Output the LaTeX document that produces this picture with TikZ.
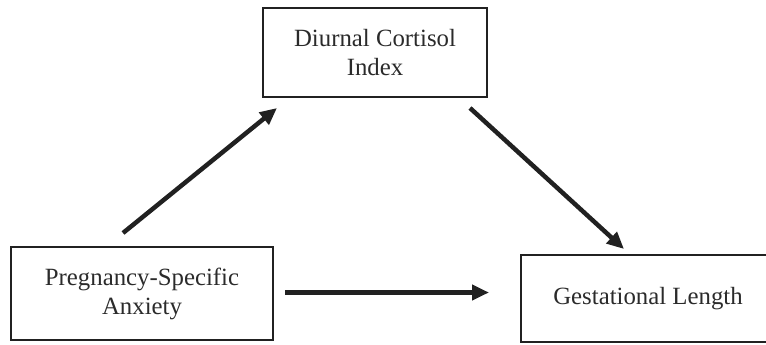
\documentclass[tikz,border=0pt]{standalone}
\usepackage{fontspec}
\setmainfont{Liberation Serif}
\usetikzlibrary{arrows.meta}
\definecolor{ink}{gray}{0.13}
\definecolor{txt}{gray}{0.17}
\begin{document}
\begin{tikzpicture}[x=1pt,y=-1pt,
  varbox/.style={draw=ink,line width=2.6pt,align=center,text=txt,
    font=\fontsize{24.8}{29}\selectfont,inner sep=0pt},
  path/.style={draw=ink,line width=4.5pt,
    -{Triangle[length=17pt,width=15pt]}}]
\useasboundingbox (0,0) rectangle (766,345);
\clip (0,0) rectangle (766,345);
\node[varbox,minimum width=224pt,minimum height=89pt] (cort) at (375,52.5)
  {Diurnal Cortisol\\Index};
\node[varbox,minimum width=262pt,minimum height=93pt] (anx) at (142,293.5)
  {Pregnancy-Specific\\Anxiety};
\node[varbox,minimum width=254pt,minimum height=87pt] (gest) at (648,298.5)
  {Gestational Length};
% arrow end points, set off from the boxes
\coordinate (a1) at (123,233);
\coordinate (a2) at (277,108);
\coordinate (b1) at (470,108);
\coordinate (b2) at (624,249);
\coordinate (c1) at (285,292.5);
\coordinate (c2) at (489,292.5);
\draw[path] (a1) -- (a2);
\draw[path] (b1) -- (b2);
\draw[path] (c1) -- (c2);
\end{tikzpicture}
\end{document}
